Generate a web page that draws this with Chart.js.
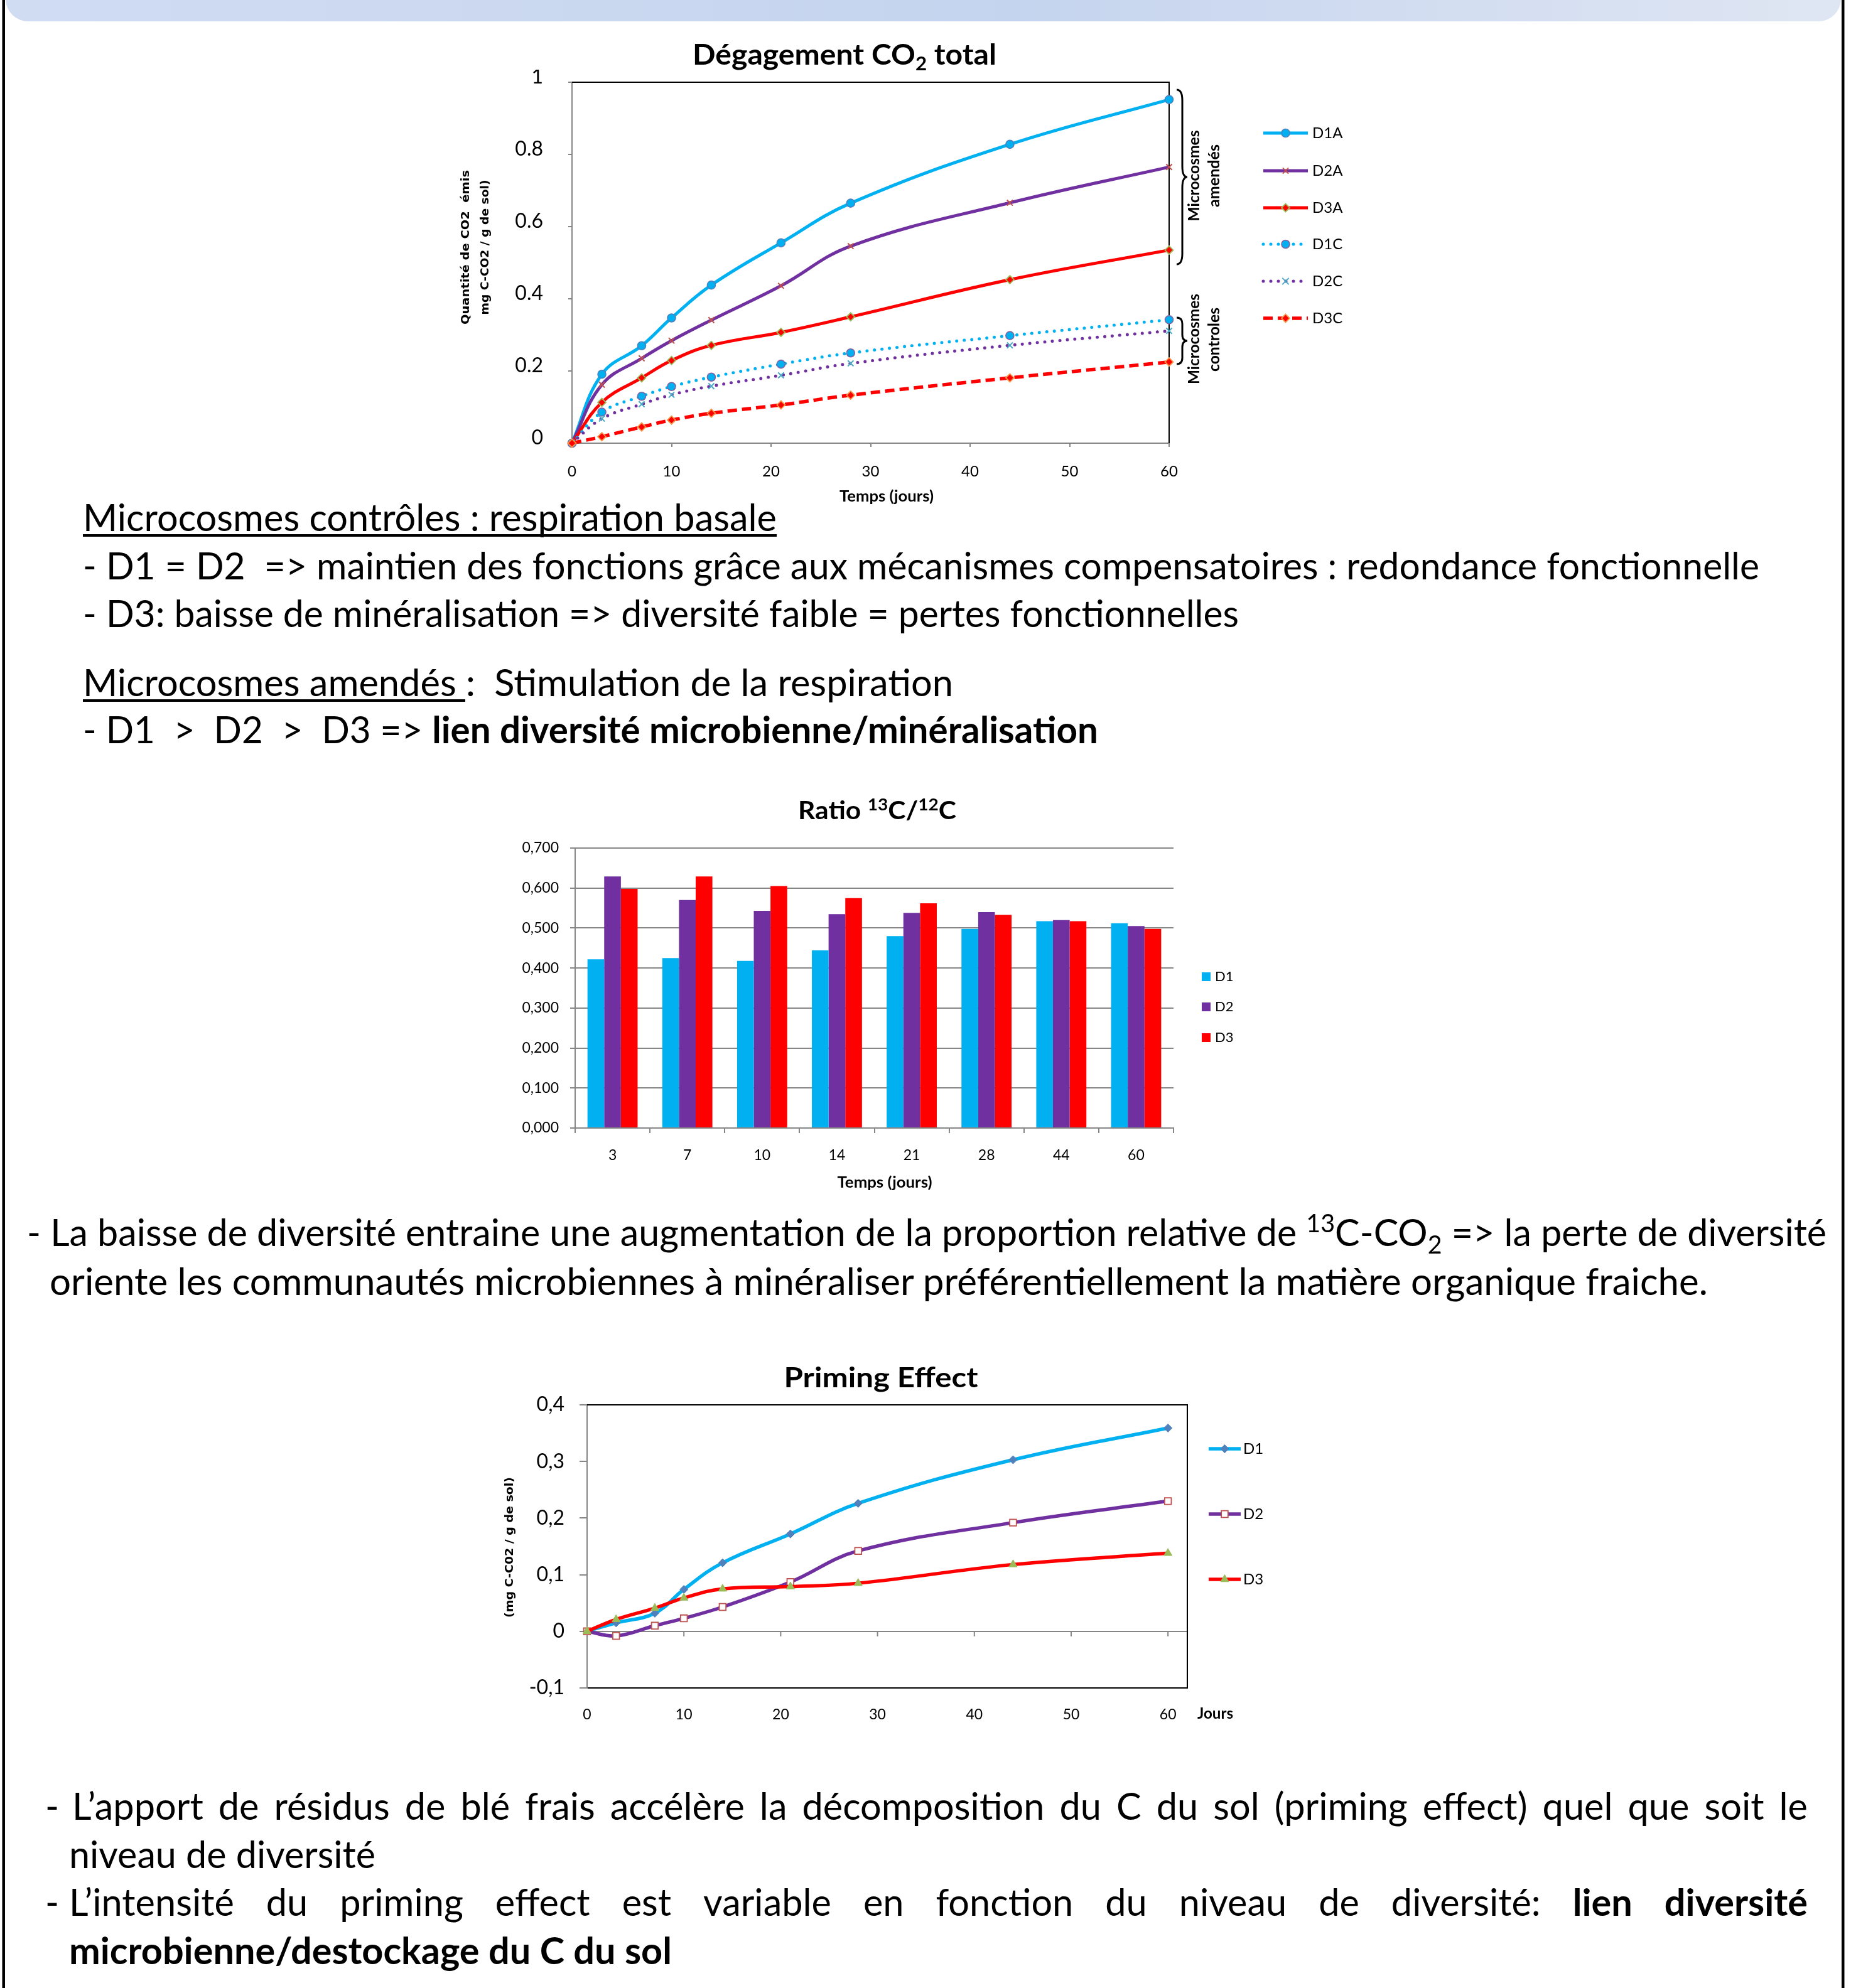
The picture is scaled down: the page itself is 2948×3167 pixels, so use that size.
<!DOCTYPE html>
<html>
<head>
<meta charset="utf-8">
<script src="https://cdn.jsdelivr.net/npm/chart.js@4.4.1/dist/chart.umd.min.js"></script>
<style>
html,body{margin:0;padding:0;background:#fff;}
#page{position:relative;width:2948px;height:3167px;overflow:hidden;background:#fff;}
canvas{position:absolute;}
#ov{position:absolute;left:0;top:0;}
#ov text{white-space:pre;}
</style>
</head>
<body>
<div id="page">
<canvas id="c1"></canvas>
<canvas id="c2"></canvas>
<canvas id="c3"></canvas>
<svg id="ov" xmlns="http://www.w3.org/2000/svg" xml:space="preserve" width="2948" height="3167" viewBox="0 0 2948 3167" font-family="Lato, 'Open Sans', sans-serif" fill="#000">
<defs>
<linearGradient id="bg" x1="0" x2="1" y1="0" y2="0">
<stop offset="0" stop-color="#D0DCF2"/><stop offset="0.55" stop-color="#C5D4EE"/><stop offset="1" stop-color="#DFE6F3"/>
</linearGradient>
</defs>
<path d="M9 0 H2932 A36 36 0 0 1 2896 34 H45 A36 36 0 0 1 9 0 Z" fill="url(#bg)"/>
<rect x="3.5" y="0" width="4.5" height="3167" fill="#000"/>
<rect x="2933" y="0" width="4.5" height="3167" fill="#000"/>

<!-- chart 1 texts -->
<text x="1345" y="103" text-anchor="middle" font-weight="700" font-size="46" textLength="484" lengthAdjust="spacingAndGlyphs">Dégagement CO<tspan dy="9" font-size="30">2</tspan><tspan dy="-9"> total</tspan></text>
<text x="1412" y="799" text-anchor="middle" font-weight="700" font-size="24" textLength="150" lengthAdjust="spacingAndGlyphs">Temps (jours)</text>
<text transform="translate(747,394) rotate(-90)" text-anchor="middle" font-family="DejaVu Sans" font-weight="700" font-size="17" textLength="246" lengthAdjust="spacingAndGlyphs">Quantité de CO2  émis</text>
<text transform="translate(778,394) rotate(-90)" text-anchor="middle" font-family="DejaVu Sans" font-weight="700" font-size="17" textLength="215" lengthAdjust="spacingAndGlyphs">mg C-CO2 / g de sol)</text>
<path d="M1874 143 Q1883 143 1883 160 L1883 265 Q1883 282 1891 282 Q1883 282 1883 299 L1883 404 Q1883 421 1874 421" fill="none" stroke="#000" stroke-width="3"/>
<path d="M1874 506 Q1883 506 1883 516 L1883 533 Q1883 543 1891 543 Q1883 543 1883 553 L1883 570 Q1883 580 1874 580" fill="none" stroke="#000" stroke-width="3"/>
<text transform="translate(1910,280) rotate(-90)" text-anchor="middle" font-weight="700" font-size="25" textLength="145" lengthAdjust="spacingAndGlyphs">Microcosmes</text>
<text transform="translate(1942,280) rotate(-90)" text-anchor="middle" font-weight="700" font-size="25" textLength="100" lengthAdjust="spacingAndGlyphs">amendés</text>
<text transform="translate(1910,540) rotate(-90)" text-anchor="middle" font-weight="700" font-size="25" textLength="144" lengthAdjust="spacingAndGlyphs">Microcosmes</text>
<text transform="translate(1942,541) rotate(-90)" text-anchor="middle" font-weight="700" font-size="25" textLength="102" lengthAdjust="spacingAndGlyphs">controles</text>

<!-- chart 2 texts -->
<text x="1397" y="1305" text-anchor="middle" font-weight="700" font-size="41" textLength="252" lengthAdjust="spacingAndGlyphs">Ratio <tspan dy="-14" font-size="27">13</tspan><tspan dy="14">C/</tspan><tspan dy="-14" font-size="27">12</tspan><tspan dy="14">C</tspan></text>
<text x="1409" y="1892" text-anchor="middle" font-weight="700" font-size="24" textLength="151" lengthAdjust="spacingAndGlyphs">Temps (jours)</text>

<!-- chart 3 texts -->
<text x="1403" y="2210" text-anchor="middle" font-weight="700" font-size="44" textLength="309" lengthAdjust="spacingAndGlyphs">Priming Effect</text>
<text x="1907" y="2738" font-weight="700" font-size="24" textLength="57" lengthAdjust="spacingAndGlyphs">Jours</text>
<text transform="translate(817,2465) rotate(-90)" text-anchor="middle" font-family="DejaVu Sans" font-weight="700" font-size="17" textLength="224" lengthAdjust="spacingAndGlyphs">(mg C-C02 / g de sol)</text>

<!-- body text -->
<g font-size="60">
<text id="L1" x="132" y="846">Microcosmes contrôles : respiration basale</text>
<rect x="132" y="851" width="1105" height="4"/>
<text x="132" y="923" textLength="2670" lengthAdjust="spacingAndGlyphs">- D1 = D2  =&gt; maintien des fonctions grâce aux mécanismes compensatoires : redondance fonctionnelle</text>
<text x="132" y="999" textLength="1841" lengthAdjust="spacingAndGlyphs">- D3: baisse de minéralisation =&gt; diversité faible = pertes fonctionnelles</text>
<text x="132" y="1109" textLength="1386" lengthAdjust="spacingAndGlyphs">Microcosmes amendés :  Stimulation de la respiration</text>
<rect x="132" y="1114" width="609" height="4"/>
<text x="132" y="1184" textLength="1617" lengthAdjust="spacingAndGlyphs">- D1  &gt;  D2  &gt;  D3 =&gt; <tspan font-weight="700">lien diversité microbienne/minéralisation</tspan></text>
<text x="43" y="1985" textLength="2866" lengthAdjust="spacingAndGlyphs">- La baisse de diversité entraine une augmentation de la proportion relative de <tspan dy="-22" font-size="40">13</tspan><tspan dy="22">C-CO</tspan><tspan dy="12" font-size="40">2</tspan><tspan dy="-12"> =&gt; la perte de diversité</tspan></text>
<text x="79" y="2063" textLength="2641" lengthAdjust="spacingAndGlyphs">oriente les communautés microbiennes à minéraliser préférentiellement la matière organique fraiche.</text>
<text x="110" y="2976" textLength="488" lengthAdjust="spacingAndGlyphs">niveau de diversité</text>
<text x="110" y="3129" font-weight="700" textLength="960" lengthAdjust="spacingAndGlyphs">microbienne/destockage du C du sol</text>
<g id="just"></g>
</g>
</svg>
</div>

<script>
// ================= DATA =================
const days = [0, 3, 7, 10, 14, 21, 28, 44, 60];
const co2D1A = [0, 0.191, 0.270, 0.347, 0.438, 0.555, 0.665, 0.828, 0.952];
const co2D2A = [0, 0.162, 0.235, 0.284, 0.341, 0.436, 0.546, 0.666, 0.765];
const co2D3A = [0, 0.113, 0.181, 0.229, 0.271, 0.307, 0.350, 0.453, 0.535];
const co2D1C = [0, 0.086, 0.130, 0.157, 0.183, 0.219, 0.250, 0.298, 0.342];
const co2D2C = [0, 0.068, 0.108, 0.134, 0.158, 0.188, 0.221, 0.271, 0.311];
const co2D3C = [0, 0.018, 0.045, 0.064, 0.083, 0.106, 0.133, 0.181, 0.225];

const ratioDays = ['3', '7', '10', '14', '21', '28', '44', '60'];
const ratioD1 = [0.422, 0.425, 0.418, 0.444, 0.480, 0.498, 0.517, 0.512];
const ratioD2 = [0.629, 0.570, 0.543, 0.535, 0.538, 0.540, 0.520, 0.505];
const ratioD3 = [0.598, 0.629, 0.605, 0.575, 0.562, 0.533, 0.517, 0.498];

const primeD1 = [0, 0.015, 0.032, 0.074, 0.121, 0.172, 0.226, 0.303, 0.359];
const primeD2 = [0, -0.008, 0.010, 0.023, 0.043, 0.087, 0.142, 0.192, 0.230];
const primeD3 = [0, 0.021, 0.041, 0.059, 0.075, 0.079, 0.085, 0.118, 0.138];

// ================= HELPERS =================
Chart.defaults.font.family = 'Lato';
Chart.defaults.color = '#000';
const GRAY = '#868686';

function place(id, box) {
  const c = document.getElementById(id);
  c.width = box.w; c.height = box.h;
  c.style.left = box.left + 'px'; c.style.top = box.top + 'px';
  c.style.width = box.w + 'px'; c.style.height = box.h + 'px';
  return c;
}
function padding(box) {
  return { left: 0, bottom: 0, top: box.area.t - box.top, right: box.left + box.w - box.area.r };
}
const yFit = box => s => { s.width = box.area.l - box.left; s.paddingTop = 0; s.paddingBottom = 0; };
const xFit = box => s => { s.height = box.top + box.h - box.area.b; s.paddingLeft = 0; s.paddingRight = 0; };
const pts = arr => days.map((d, i) => ({ x: d, y: arr[i] }));

const framePlugin = {
  id: 'frame',
  beforeDatasetsDraw(chart, args, o) {
    if (!o || !o.sides) return;
    const { ctx, chartArea: a } = chart;
    ctx.save();
    ctx.strokeStyle = '#000'; ctx.lineWidth = 2;
    ctx.beginPath();
    if (o.sides.includes('top')) { ctx.moveTo(a.left, a.top); ctx.lineTo(a.right + 1, a.top); }
    if (o.sides.includes('right')) { ctx.moveTo(a.right, a.top); ctx.lineTo(a.right, a.bottom); }
    ctx.stroke();
    ctx.restore();
  }
};

const zeroTicksPlugin = {
  id: 'zeroTicks',
  beforeDatasetsDraw(chart, args, o) {
    if (!o || !o.on) return;
    const { ctx, scales: { x, y } } = chart;
    const y0 = y.getPixelForValue(0);
    ctx.save();
    ctx.strokeStyle = GRAY; ctx.lineWidth = 2;
    x.ticks.forEach(t => {
      const px = x.getPixelForValue(t.value);
      ctx.beginPath(); ctx.moveTo(px, y0); ctx.lineTo(px, y0 + 8); ctx.stroke();
    });
    ctx.restore();
  }
};

const legendPlugin = {
  id: 'pageLegend',
  afterDraw(chart, args, o) {
    if (!o || !o.ys) return;
    const ctx = chart.ctx;
    chart.data.datasets.forEach((ds, i) => {
      const y = o.ys[i] - o.oy;
      const x = o.x - o.ox;
      ctx.save();
      if (o.type === 'box') {
        ctx.fillStyle = ds.backgroundColor;
        ctx.fillRect(x, y - o.box / 2, o.box, o.box);
        ctx.fillStyle = '#000';
        ctx.font = o.size + 'px Lato';
        ctx.textBaseline = 'middle';
        ctx.fillText(ds.label, x + o.box + o.gap, y);
      } else {
        ctx.strokeStyle = ds.borderColor;
        ctx.lineWidth = ds.borderWidth;
        ctx.lineCap = ds.borderCapStyle || 'butt';
        ctx.setLineDash(ds.borderDash || []);
        ctx.beginPath(); ctx.moveTo(x, y); ctx.lineTo(x + o.len, y); ctx.stroke();
        ctx.setLineDash([]);
        ctx.fillStyle = ds.pointBackgroundColor;
        ctx.strokeStyle = ds.pointBorderColor;
        ctx.lineWidth = ds.pointBorderWidth;
        Chart.helpers.drawPoint(ctx, { pointStyle: ds.pointStyle, radius: ds.pointRadius, rotation: 0, borderWidth: ds.pointBorderWidth }, x + o.len / 2, y);
        ctx.fillStyle = '#000';
        ctx.font = o.size + 'px Lato';
        ctx.textBaseline = 'middle';
        ctx.fillText(ds.label, x + o.len + o.gap, y);
      }
      ctx.restore();
    });
  }
};

function lineDs(label, data, color, width, dash, cap, pStyle, pRadius, pFill, pBorder, pbw, order) {
  return {
    label, data, order,
    borderColor: color, borderWidth: width, borderDash: dash, borderCapStyle: cap,
    pointStyle: pStyle, pointRadius: pRadius, pointBackgroundColor: pFill,
    pointBorderColor: pBorder, pointBorderWidth: pbw,
    tension: 0.4, fill: false, clip: false
  };
}

// ================= CHART 1 =================
const B1 = { left: 791, top: 111, w: 1359, h: 665, area: { l: 911, t: 131, r: 1862, b: 706 } };
new Chart(place('c1', B1), {
  type: 'line',
  data: {
    datasets: [
      lineDs('D1A', pts(co2D1A), '#00B0F0', 5, [], 'butt', 'circle', 6.5, '#00B0F0', '#4F81BD', 1.6, 6),
      lineDs('D2A', pts(co2D2A), '#7030A0', 5, [], 'butt', 'crossRot', 6.5, '#C0504D', '#C0504D', 2, 5),
      lineDs('D3A', pts(co2D3A), '#FF0000', 5, [], 'butt', 'rectRot', 6.5, '#FF0000', '#9BBB59', 1.8, 4),
      lineDs('D1C', pts(co2D1C), '#00B0F0', 5, [0, 12], 'round', 'circle', 6.5, '#00B0F0', '#8064A2', 1.6, 3),
      lineDs('D2C', pts(co2D2C), '#7030A0', 5, [0, 12], 'round', 'crossRot', 6.5, '#4BACC6', '#4BACC6', 2, 2),
      lineDs('D3C', pts(co2D3C), '#FF0000', 5.5, [15, 8], 'butt', 'rectRot', 6.5, '#FF0000', '#F79646', 1.8, 1)
    ]
  },
  options: {
    responsive: false, animation: false, devicePixelRatio: 1,
    layout: { padding: padding(B1) },
    plugins: {
      legend: { display: false }, tooltip: { enabled: false }, title: { display: false },
      frame: { sides: ['top', 'right'] },
      pageLegend: { ox: B1.left, oy: B1.top, x: 2012, len: 71, gap: 7, size: 24, ys: [212, 272, 331, 389, 448, 507] }
    },
    scales: {
      x: {
        type: 'linear', min: 0, max: 60,
        afterFit: xFit(B1),
        ticks: { stepSize: 10, font: { size: 24 }, padding: 25, maxRotation: 0 },
        grid: { drawOnChartArea: false, drawTicks: true, tickLength: 6, color: GRAY, lineWidth: 2 },
        border: { color: GRAY, width: 2 }
      },
      y: {
        min: 0, max: 1,
        afterFit: yFit(B1),
        ticks: { stepSize: 0.2, font: { size: 32 }, padding: 40, labelOffset: -8,
          callback: v => Math.abs(v) < 1e-9 ? '0' : Math.abs(v - 1) < 1e-9 ? '1' : v.toFixed(1) },
        grid: { drawOnChartArea: false, drawTicks: true, tickLength: 6, color: GRAY, lineWidth: 2 },
        border: { color: GRAY, width: 2 }
      }
    }
  },
  plugins: [framePlugin, legendPlugin]
});

// ================= CHART 2 =================
const B2 = { left: 806, top: 1321, w: 1194, h: 536, area: { l: 916, t: 1351, r: 1869, b: 1797 } };
new Chart(place('c2', B2), {
  type: 'bar',
  data: {
    labels: ratioDays,
    datasets: [
      { label: 'D1', data: ratioD1, backgroundColor: '#00B0F0', categoryPercentage: 0.67, barPercentage: 1 },
      { label: 'D2', data: ratioD2, backgroundColor: '#7030A0', categoryPercentage: 0.67, barPercentage: 1 },
      { label: 'D3', data: ratioD3, backgroundColor: '#FF0000', categoryPercentage: 0.67, barPercentage: 1 }
    ]
  },
  options: {
    responsive: false, animation: false, devicePixelRatio: 1,
    layout: { padding: padding(B2) },
    plugins: {
      legend: { display: false }, tooltip: { enabled: false }, title: { display: false },
      pageLegend: { type: 'box', ox: B2.left, oy: B2.top, x: 1914, box: 14, gap: 7, size: 22, ys: [1556, 1604, 1653] }
    },
    scales: {
      x: {
        afterFit: xFit(B2),
        ticks: { font: { size: 23 }, padding: 22, maxRotation: 0 },
        grid: { offset: true, drawOnChartArea: false, drawTicks: true, tickLength: 8, color: GRAY, lineWidth: 2 },
        border: { color: GRAY, width: 2 }
      },
      y: {
        min: 0, max: 0.7,
        afterFit: yFit(B2),
        ticks: { stepSize: 0.1, font: { size: 23 }, padding: 18,
          callback: v => v.toFixed(3).replace('.', ',') },
        grid: { color: GRAY, lineWidth: 2, drawTicks: true, tickLength: 8 },
        border: { color: GRAY, width: 2 }
      }
    }
  },
  plugins: [legendPlugin]
});

// ================= CHART 3 =================
const B3 = { left: 825, top: 2208, w: 1195, h: 541, area: { l: 935, t: 2238, r: 1891, b: 2689 } };
new Chart(place('c3', B3), {
  type: 'line',
  data: {
    datasets: [
      lineDs('D1', pts(primeD1), '#00B0F0', 5.5, [], 'butt', 'rectRot', 6.5, '#4F81BD', '#4F81BD', 1, 3),
      lineDs('D2', pts(primeD2), '#7030A0', 5.5, [], 'butt', 'rect', 7.5, '#FFFFFF', '#C0504D', 1.8, 2),
      lineDs('D3', pts(primeD3), '#FF0000', 5.5, [], 'butt', 'triangle', 7.5, '#9BBB59', '#9BBB59', 1, 1)
    ]
  },
  options: {
    responsive: false, animation: false, devicePixelRatio: 1,
    layout: { padding: padding(B3) },
    plugins: {
      legend: { display: false }, tooltip: { enabled: false }, title: { display: false },
      frame: { sides: ['top', 'right'] },
      zeroTicks: { on: true },
      pageLegend: { ox: B3.left, oy: B3.top, x: 1925, len: 51, gap: 4, size: 24, ys: [2308, 2412, 2516] }
    },
    scales: {
      x: {
        type: 'linear', min: 0, max: 62,
        afterFit: xFit(B3),
        ticks: { stepSize: 10, includeBounds: false, font: { size: 23 }, padding: 29, maxRotation: 0 },
        grid: { display: false, drawTicks: false },
        border: { color: '#000', width: 2 }
      },
      y: {
        min: -0.1, max: 0.4,
        afterFit: yFit(B3),
        ticks: { stepSize: 0.1, font: { size: 32 }, padding: 24,
          callback: v => Math.abs(v) < 1e-9 ? '0' : v.toFixed(1).replace('.', ',') },
        grid: { drawOnChartArea: true, drawTicks: true, tickLength: 12, tickColor: GRAY, lineWidth: 2,
          color: c => (c.tick && Math.abs(c.tick.value) < 1e-9) ? GRAY : 'rgba(0,0,0,0)' },
        border: { color: GRAY, width: 2 }
      }
    }
  },
  plugins: [framePlugin, zeroTicksPlugin, legendPlugin]
});

// ================= BODY TEXT FITTING =================
(function () {
  const NS = 'http://www.w3.org/2000/svg';
  const L1 = document.getElementById('L1');
  const nat = L1.getComputedTextLength();
  const f = 1105 / nat;
  L1.setAttribute('textLength', 1105);
  L1.setAttribute('lengthAdjust', 'spacingAndGlyphs');
  const g = document.getElementById('just');
  function word(t, x, y, bold) {
    const e = document.createElementNS(NS, 'text');
    e.setAttribute('x', x); e.setAttribute('y', y);
    if (bold) e.setAttribute('font-weight', '700');
    e.textContent = t; g.appendChild(e);
    return e;
  }
  function justify(y, x0, x1, words) {
    const els = words.map(w => word(w.t, 0, y, w.b));
    const ws = els.map(e => e.getComputedTextLength() * f);
    const tot = ws.reduce((a, b) => a + b, 0);
    const gap = (x1 - x0 - tot) / (words.length - 1);
    let x = x0;
    els.forEach((e, i) => {
      e.setAttribute('x', x);
      e.setAttribute('textLength', ws[i]);
      e.setAttribute('lengthAdjust', 'spacingAndGlyphs');
      x += ws[i] + gap;
    });
  }
  function dash(y) {
    const e = word('-', 72, y, false);
    e.setAttribute('textLength', e.getComputedTextLength() * f);
    e.setAttribute('lengthAdjust', 'spacingAndGlyphs');
  }
  dash(2899);
  justify(2899, 115, 2879, 'L’apport de résidus de blé frais accélère la décomposition du C du sol (priming effect) quel que soit le'.split(' ').map(t => ({ t, b: false })));
  dash(3052);
  const w10 = 'L’intensité du priming effect est variable en fonction du niveau de diversité:'.split(' ').map(t => ({ t, b: false }));
  w10.push({ t: 'lien', b: true }, { t: 'diversité', b: true });
  justify(3052, 110, 2879, w10);
})();
</script>
</body>
</html>
